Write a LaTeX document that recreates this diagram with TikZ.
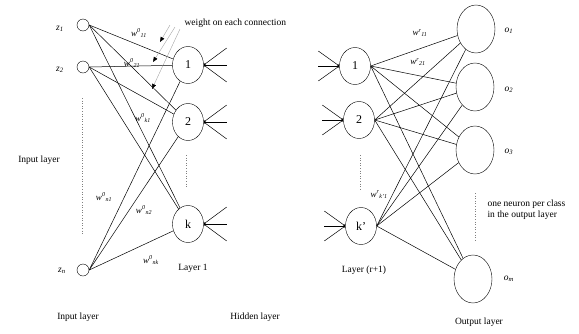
\documentclass[tikz,border=0pt]{standalone}
\usepackage{fontspec}
\setmainfont{Liberation Serif}
\usepackage{amsmath}
\usetikzlibrary{shapes.geometric, arrows.meta, calc}

\newcommand{\wt}[2]{$\mathit{w}^{\text{\itshape #1}}{}_{\text{\itshape #2}}$}

\tikzset{
  inp/.style={circle,draw,minimum size=12pt,inner sep=0pt},
  hid/.style={ellipse,draw,minimum width=31pt,minimum height=37pt,inner sep=0pt,
    font=\fontsize{12}{12}\selectfont},
  outn/.style={ellipse,draw,minimum width=38pt,minimum height=48pt,inner sep=0pt},
  conn/.style={line width=0.5pt},
  fanin/.style={line width=0.5pt,{Stealth[length=2pt,width=1.8pt]}-},
  guide/.style={gray,dotted,line width=0.6pt},
  lbl/.style={font=\fontsize{9.5}{11}\selectfont},
  wlbl/.style={font=\fontsize{9}{10}\selectfont},
  pointer/.style={gray!70,line width=0.4pt,-{Triangle[black,length=5pt,width=4pt]}}
}

\begin{document}
\begin{tikzpicture}[x=1pt,y=-1pt]
\useasboundingbox (0,0) rectangle (579,333);

% Input neurons
\node[inp] (z1) at (83,25) {};
\node[inp] (z2) at (83,67) {};
\node[inp] (zn) at (83,270) {};
\node[lbl] at (60,29) {\itshape z\textsubscript{1}};
\node[lbl] at (60,70) {\itshape z\textsubscript{2}};
\node[lbl] at (62,271) {\itshape z\textsubscript{n}};
\draw[guide] (82,98) -- (82,235);

% Hidden layer 1
\node[hid] (h1) at (188,65) {1};
\node[hid] (h2) at (188,122) {2};
\node[hid] (hk) at (188,224) {k};
\draw[guide] (186,155) -- (186,188);

% Connections input -> layer 1
\foreach \i in {z1,z2,zn}
  \foreach \j in {h1,h2,hk}
    \draw[conn] (\i.east) -- (\j);

% Incoming lines of the next layer
\foreach \n in {h1,h2,hk}
  \foreach \dy in {-17,0,17}
    \draw[fanin] (\n.east) -- ++(23,\dy);

% Weight labels, first layer
\node[wlbl] at (139,33) {\wt{0}{11}};
\node[wlbl] at (132,63) {\wt{0}{21}};
\node[wlbl] at (143,118) {\wt{0}{k1}};
\node[wlbl] at (104,197) {\wt{0}{n1}};
\node[wlbl] at (144,210) {\wt{0}{n2}};
\node[wlbl] at (151,260) {\wt{0}{nk}};

% Pointers to the weights
\node[lbl,anchor=west] (wnote) at (181,23) {weight on each connection};
\coordinate (p1) at (170,25);
\coordinate (p2) at (175,27);
\coordinate (p3) at (180,29);
\coordinate (q1) at (160,42);
\coordinate (q2) at (153,62);
\coordinate (q3) at (152,89);
\draw[pointer] (p1) -- (q1);
\draw[pointer] (p2) -- (q2);
\draw[pointer] (p3) -- (q3);

% Layer (r+1)
\node[hid] (r1) at (355,66) {1};
\node[hid] (r2) at (359,120) {2};
\node[hid] (rk) at (361,226) {k’};
\draw[guide] (360,155) -- (360,190);
\foreach \n in {r1,r2,rk}
  \foreach \dy in {-15,0,15}
    \draw[fanin] (\n.west) -- ++(-21,\dy);

% Output layer
\node[outn] (o1) at (476,29) {};
\node[outn] (o2) at (475,87) {};
\node[outn] (o3) at (475,150) {};
\node[outn] (om) at (473,279) {};
\node[lbl] at (509,31) {\itshape o\textsubscript{1}};
\node[lbl] at (509,90) {\itshape o\textsubscript{2}};
\node[lbl] at (509,152) {\itshape o\textsubscript{3}};
\node[lbl] at (509,279) {\itshape o\textsubscript{m}};
\draw[guide] (475,193) -- (475,240);

% Connections layer (r+1) -> output
\foreach \i in {r1,r2,rk}
  \foreach \j in {o1,o2,o3,om}
    \draw[conn] (\i.east) -- (\j);

\node[wlbl] at (420,33) {\wt{r}{11}};
\node[wlbl] at (418,62) {\wt{r}{21}};
\node[wlbl] at (379,195) {\wt{r}{k’1}};

% Captions
\node[lbl] at (39,160) {Input layer};
\node[lbl] at (78,317) {Input layer};
\node[lbl] at (193,268) {Layer 1};
\node[lbl] at (255,317) {Hidden layer};
\node[lbl] at (364,270) {Layer (r+1)};
\node[lbl] at (479,322) {Output layer};
\node[lbl,anchor=west,align=left] at (484,210) {one neuron per class\\in the output layer};
\end{tikzpicture}
\end{document}
